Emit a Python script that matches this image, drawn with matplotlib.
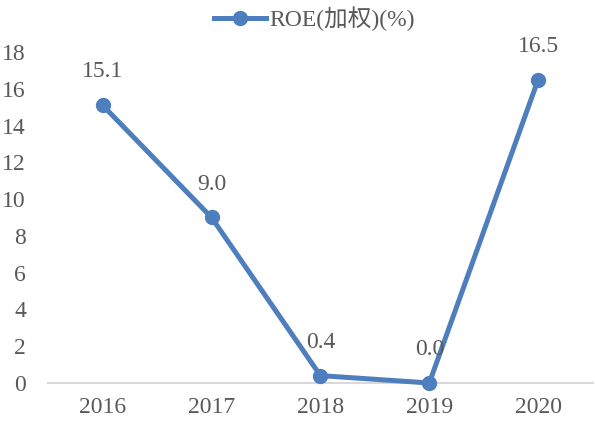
import matplotlib
matplotlib.use("Agg")
import matplotlib.pyplot as plt

years = ["2016", "2017", "2018", "2019", "2020"]
roe = [15.1, 9.0, 0.4, 0.0, 16.5]
yticks = [0, 2, 4, 6, 8, 10, 12, 14, 16, 18]

plt.rcParams['font.family'] = ['Liberation Serif', 'Noto Sans CJK SC']
blue = '#4E7EBE'
txt = '#595959'

fig = plt.figure(figsize=(5.95, 4.26), dpi=100)
ax = fig.add_axes([0.081, 0.101, 0.915, 0.777])

x = range(len(years))
ax.plot(x, roe, '-o', color=blue, lw=3.6, ms=10, label="ROE(加权)(%)", clip_on=False, zorder=3)
for i, v in zip(x, roe):
    ax.annotate(f"{v:.1f}", (i, v), xytext=(0, 24), textcoords='offset points',
                ha='center', va='center', fontsize=17, color=txt)

ax.set_xlim(-0.5, len(years) - 0.5)
ax.set_ylim(0, 18)
ax.set_yticks(yticks)
ax.set_xticks(list(x))
ax.set_xticklabels(years)
ax.tick_params(length=0, labelsize=17, labelcolor=txt)
ax.tick_params(axis='y', pad=16)
ax.tick_params(axis='x', pad=10)
for s in ['top', 'right', 'left']:
    ax.spines[s].set_visible(False)
ax.spines['bottom'].set_color('#D9D9D9')
ax.spines['bottom'].set_linewidth(1.5)

leg = fig.legend(loc='center', bbox_to_anchor=(0.528, 0.955), frameon=False,
                 fontsize=17, handlelength=2.2, handletextpad=0.15)
for t in leg.get_texts():
    t.set_color(txt)

fig.savefig("out.png", dpi=100)
